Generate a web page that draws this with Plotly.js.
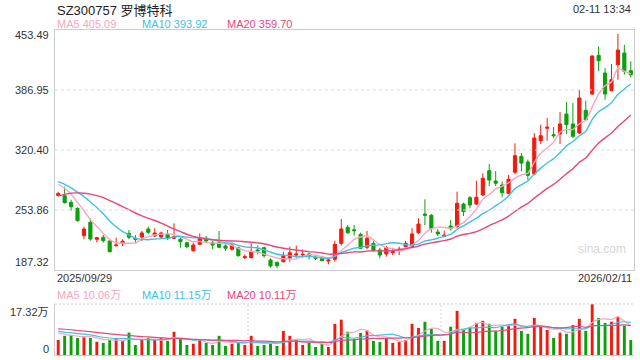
<!DOCTYPE html>
<html><head><meta charset="utf-8">
<script src="https://cdn.plot.ly/plotly-3.0.1.min.js"></script>
<style>html,body{margin:0;padding:0;background:#fff}#chart{width:640px;height:360px}</style>
</head><body><div id="chart"></div>
<script>
// Daily OHLC, 2025/09/29 .. 2026/02/11 (90 sessions)
const opens = [270,269.7,262.4,255.7,225.4,240.2,221.4,223.6,219.5,214.3,216.5,228.0,222.5,223.9,232.8,225.0,223.9,226.9,222.5,221.4,217.6,208.7,215.8,222.5,217.6,217.6,214.0,210.3,212.1,201.0,201.0,209.5,212.1,198.4,195.9,196.5,200.6,203.9,203.9,205.1,201.4,200.3,197.3,199.2,216.9,234.7,232.0,226.9,212.5,216.9,209.5,205.1,206.5,209.2,213.2,213.2,228.7,249.4,248.0,229.5,224.7,236.1,235.4,260.5,267.5,260.5,270.5,297.5,286.0,281.6,272.4,295.7,313.4,307.1,293.8,330.7,344.5,337.4,338.2,360.3,349.3,339.3,364.4,382.5,425.4,405.8,386.2,415.0,428.0,408.4];
const highs = [274,279.7,265.3,256.8,235.4,244.7,224.2,226.2,220.3,223.2,221.4,231.7,226.2,230.6,235.4,233.6,229.8,231.7,239.1,223.2,218.0,217.6,228.0,225.0,219.5,230.6,215.8,217.6,213.2,204.7,216.9,214.3,213.2,200.3,196.5,207.6,213.2,214.3,210.3,206.9,203.9,203.2,201.0,219.8,243.9,237.2,237.2,228.7,230.6,219.8,212.1,214.0,211.4,213.2,219.5,233.6,244.7,265.7,249.4,232.5,230.9,242.8,274.2,262.0,269.4,286.4,294.6,304.9,297.1,285.3,292.7,327.8,317.1,309.7,339.2,348.5,355.9,345.9,362.5,373.6,372.5,387.3,375.1,425.4,435.4,411.3,415.8,449.1,437.2,418.8];
const lows = [269,261,253.1,240.9,221.4,219.8,218.0,217.6,206.9,213.2,213.9,221.4,216.9,219.5,227.3,223.9,222.5,220.6,221.7,212.1,211.4,207.6,215.0,216.9,210.3,211.4,208.4,208.7,202.1,199.5,200.3,204.7,201.0,189.9,189.2,195.9,196.5,201.0,201.0,199.2,198.4,197.3,193.7,196.5,214.3,227.3,225.4,210.6,210.3,207.6,200.3,202.1,203.9,203.9,212.5,212.5,227.3,237.2,228.7,225.0,223.6,230.9,233.6,247.2,255.7,259.4,269.4,280.5,280.5,267.9,271.6,293.5,296.8,287.5,293.0,327.1,330.7,333.7,327.1,338.2,333.7,338.2,352.9,381.7,407.7,376.2,385.5,398.4,403.9,401.0];
const closes = [272,262.0,257.5,242.0,232.8,221.7,223.1,219.8,207.6,215.0,219.2,223.6,221.4,228.4,229.1,228.4,228.4,222.5,224.2,218.7,213.2,215.0,223.2,219.5,215.0,212.5,211.4,215.0,203.2,202.1,207.6,208.4,203.2,191.8,192.1,203.2,206.5,205.0,204.7,202.1,200.3,197.6,198.4,215.8,232.8,228.7,230.9,211.4,222.5,209.5,203.9,212.1,207.6,210.3,216.9,227.3,238.3,248.0,233.6,227.3,225.8,233.1,261.3,252.0,259.4,268.0,289.0,287.1,283.5,273.1,287.9,314.1,305.9,292.3,333.7,336.3,345.6,336.3,349.3,348.5,335.6,378.1,354.0,424.7,419.4,382.5,398.4,431.3,407.7,403.9];
// Volume in 万 (10k)
const volumes = [5.1,6.5,6.8,5.8,6.3,5.8,4.5,4.1,5.1,5.7,4.8,7.6,3.4,5.1,5.8,5.1,5.8,4.8,7.9,5.5,3.4,3.8,5.1,4.1,3.4,6.5,3.1,3.8,4.1,3.4,6.5,3.1,3.4,3.8,3.1,8.2,6.5,5.1,3.4,4.1,2.7,3.8,2.7,10.6,12.0,7.9,5.5,7.5,8.4,4.8,4.4,5.8,4.1,4.4,5.1,10.6,9.2,11.3,8.9,4.8,4.8,9.6,15.0,8.5,9.2,10.8,11.6,10.6,8.2,9.6,9.9,12.3,8.2,7.2,12.6,9.6,8.5,5.8,7.6,7.2,10.2,12.3,8.2,17.32,12.6,10.9,11.3,13.0,9.9,5.1];
// Estimated sessions before the visible window (needed for moving averages at the left edge)
const priorCloses = [228,232,236,239,243,255,265,272,280,288,292,296,290,283,280,284,290,288,278];
const priorVolumes = [9.5,10.2,11.0,9.8,10.5,9.6,9.0,10.1,9.2,9.1,9.4,8.2,8.9,8.0,8.5,8.6,7.9,7.6,7.8];

const titleText = 'SZ300757 罗博特科';
const timeText = '02-11 13:34';
const startDate = '2025/09/29';
const endDate = '2026/02/11';
const priceTicks = [453.49, 386.95, 320.40, 253.86, 187.32];
const volMaxLabel = '17.32万';
const maLabels = ['MA5 405.09', 'MA10 393.92', 'MA20 359.70'];
const volMaLabels = ['MA5 10.06万', 'MA10 11.15万', 'MA20 10.11万'];

const RED = '#f21a0e', GREEN = '#0ca00c';
const C5 = '#f8a5c2', C10 = '#41c1e5', C20 = '#e8467c';
const FONT = 'Liberation Sans, Arial, Noto Sans CJK SC, sans-serif';

const idx = closes.map((_, i) => i);
function movingAvg(prior, vals, n) {
  const all = prior.concat(vals);
  const off = prior.length;
  return vals.map((_, i) => {
    let s = 0;
    for (let k = off + i - n + 1; k <= off + i; k++) s += all[k];
    return s / n;
  });
}
const ma = [5, 10, 20].map(n => movingAvg(priorCloses, closes, n));
const vma = [5, 10, 20].map(n => movingAvg(priorVolumes, volumes, n));
const volColors = closes.map((c, i) => c >= opens[i] ? RED : GREEN);

const traces = [
  {type: 'candlestick', x: idx, open: opens, high: highs, low: lows, close: closes,
   xaxis: 'x', yaxis: 'y',
   increasing: {line: {color: RED, width: 1}, fillcolor: RED},
   decreasing: {line: {color: GREEN, width: 1}, fillcolor: GREEN},
   whiskerwidth: 0, hoverinfo: 'skip', showlegend: false},
  ...[C5, C10, C20].map((c, k) => ({type: 'scatter', mode: 'lines', x: idx, y: ma[k],
   xaxis: 'x', yaxis: 'y', line: {color: c, width: 1.4, shape: 'spline', smoothing: 0.5},
   hoverinfo: 'skip', showlegend: false})),
  {type: 'bar', x: idx, y: volumes, xaxis: 'x2', yaxis: 'y2', width: 0.45,
   marker: {color: volColors, line: {width: 0}}, hoverinfo: 'skip', showlegend: false},
  ...[C5, C10, C20].map((c, k) => ({type: 'scatter', mode: 'lines', x: idx, y: vma[k],
   xaxis: 'x2', yaxis: 'y2', line: {color: c, width: 1.2, shape: 'spline', smoothing: 0.5},
   hoverinfo: 'skip', showlegend: false}))
];

const mainBottom = 85 / 325, volTop = 51 / 325;
const ann = [];
function txt(text, x, y, xanchor, opts) {
  ann.push(Object.assign({text, x, y, xref: 'paper', yref: 'paper', xanchor, yanchor: 'middle',
    showarrow: false, font: {family: FONT, size: 11, color: '#333'}}, opts || {}));
}
txt(titleText, 0, 1.0615, 'left', {font: {family: FONT, size: 13, color: '#222'}});
txt(timeText, 0.998, 1.0646, 'right', {font: {family: FONT, size: 11, color: '#333'}});
const legX = [0, 85 / 579, 170 / 579];
const legC = [C5, C10, C20];
maLabels.forEach((t, k) => txt(t, legX[k], 1.0185, 'left', {font: {family: FONT, size: 11, color: legC[k]}}));
volMaLabels.forEach((t, k) => txt(t, legX[k], (355 - 295) / 325, 'left', {font: {family: FONT, size: 11, color: legC[k]}}));
txt(startDate, 0, (355 - 278) / 325, 'left');
txt(endDate, 1, (355 - 278) / 325, 'right');
txt('sina.com', 0.9447, 0.326, 'center', {font: {family: FONT, size: 12, color: '#d6d6d6'}});
priceTicks.forEach((v, k) => {
  ann.push({text: v.toFixed(2), x: -0.007, y: v, xref: 'paper', yref: 'y', xanchor: 'right',
    yanchor: k === 0 ? 'top' : (k === priceTicks.length - 1 ? 'bottom' : 'middle'),
    yshift: k === 0 ? 3 : 0,
    showarrow: false, font: {family: FONT, size: 11, color: '#333'}});
});
ann.push({text: volMaxLabel, x: -0.007, y: 17.32, xref: 'paper', yref: 'y2', xanchor: 'right', yanchor: 'top',
  showarrow: false, font: {family: FONT, size: 11, color: '#333'}});
ann.push({text: '0', x: -0.007, y: 0, xref: 'paper', yref: 'y2', xanchor: 'right', yanchor: 'bottom', yshift: -2,
  showarrow: false, font: {family: FONT, size: 11, color: '#333'}});

const shapes = [];
priceTicks.slice(1, -1).forEach(v => shapes.push({type: 'line', xref: 'paper', yref: 'y', x0: 0, x1: 1, y0: v, y1: v,
  line: {color: '#d9d9d9', width: 1.2, dash: '3px,3px'}}));
[29.5, 59.5].forEach(x => shapes.push({type: 'line', xref: 'x2', yref: 'y2 domain', x0: x, x1: x, y0: 0, y1: 1,
  line: {color: '#d0d0d0', width: 1, dash: '2px,2px'}}));
shapes.push({type: 'line', xref: 'paper', yref: 'y2 domain', x0: 0, x1: 1, y0: 1, y1: 1,
  line: {color: '#d0d0d0', width: 1, dash: '2px,2px'}});

const layout = {
  width: 640, height: 360, margin: {l: 55, r: 6, t: 30, b: 5},
  paper_bgcolor: '#fff', plot_bgcolor: '#fff', showlegend: false, boxgap: 0.3,
  xaxis: {domain: [0, 1], anchor: 'y', range: [-0.5, 89.5], showgrid: false, zeroline: false,
    showticklabels: false, ticks: '', showline: true, mirror: true, linecolor: '#cccccc', linewidth: 1,
    rangeslider: {visible: false}, fixedrange: true},
  yaxis: {domain: [mainBottom, 1], range: [187.32, 453.49], showgrid: false, zeroline: false,
    showticklabels: false, ticks: '', showline: true, mirror: true, linecolor: '#cccccc', linewidth: 1},
  xaxis2: {domain: [0, 1], anchor: 'y2', matches: 'x', range: [-0.5, 89.5], showgrid: false, zeroline: false,
    showticklabels: false, ticks: '', showline: true, linecolor: '#cccccc', linewidth: 1},
  yaxis2: {domain: [0, volTop], range: [0, 17.32], showgrid: false, zeroline: false,
    showticklabels: false, ticks: '', showline: true, linecolor: '#cccccc', linewidth: 1},
  annotations: ann, shapes: shapes
};
Plotly.newPlot('chart', traces, layout, {staticPlot: true, displayModeBar: false});
</script></body></html>
